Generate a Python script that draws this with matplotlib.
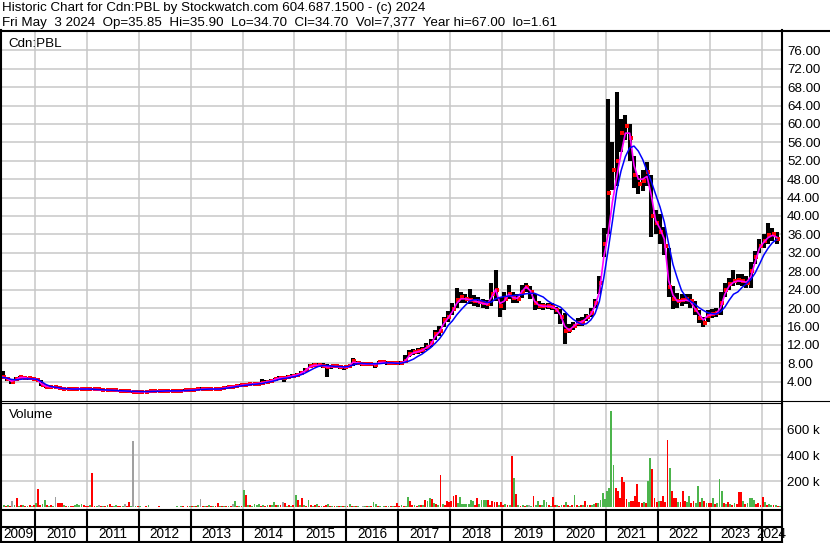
import numpy as np
import matplotlib
matplotlib.use("Agg")
import matplotlib.pyplot as plt
from matplotlib.lines import Line2D

# ---- monthly price data, May 2009 .. Apr 2024 ----
close_px = [
    5.0, 4.6, 3.9, 4.6, 5.0, 4.9, 4.7, 4.6,                          # 2009
    4.4, 3.2, 2.9, 2.9, 2.8, 2.6, 2.5, 2.4, 2.4, 2.5, 2.5, 2.4,      # 2010
    2.4, 2.3, 2.3, 2.2, 2.2, 2.1, 2.1, 2.0, 2.0, 1.9, 1.8, 1.8,      # 2011
    1.8, 1.8, 1.9, 1.9, 1.9, 2.0, 2.0, 2.0, 2.0, 2.0, 2.1, 2.1,      # 2012
    2.2, 2.3, 2.4, 2.4, 2.4, 2.3, 2.4, 2.6, 2.8, 2.9, 3.0, 3.2,      # 2013
    3.3, 3.4, 3.5, 3.6, 3.8, 4.0, 4.2, 4.6, 4.9, 4.7, 5.1, 5.3,      # 2014
    5.5, 5.9, 6.5, 7.4, 7.6, 7.6, 7.5, 7.2, 7.3, 7.3, 7.2, 7.1,      # 2015
    7.3, 8.4, 8.0, 7.9, 7.8, 7.9, 7.6, 8.2, 8.2, 8.1, 8.1, 8.0,      # 2016
    8.1, 8.6, 10.0, 10.4, 10.6, 10.9, 11.6, 12.3, 14.3, 15.0, 17.3, 18.0,   # 2017
    19.8, 21.8, 22.3, 22.0, 21.8, 21.6, 21.3, 21.0, 20.8, 23.0, 24.0, 20.5, # 2018
    22.0, 23.0, 22.2, 22.0, 23.5, 24.5, 23.5, 21.0, 20.5, 20.4, 20.4, 20.2, # 2019
    19.5, 18.0, 15.0, 15.3, 16.0, 16.8, 17.0, 18.0, 19.0, 21.0, 25.5, 34.0, # 2020
    45.0, 50.0, 52.0, 58.0, 59.5, 57.0, 49.0, 47.0, 47.5, 49.5, 40.0, 38.5, # 2021
    36.5, 33.5, 24.5, 22.0, 21.5, 21.8, 22.0, 21.5, 19.5, 17.8, 16.8, 18.3, # 2022
    18.8, 18.9, 21.0, 24.0, 25.2, 25.8, 26.0, 25.8, 25.5, 28.0, 31.0, 33.5, # 2023
    34.5, 35.8, 36.0, 35.0,                                          # 2024
]
high_px = [
    6.4, 5.1, 4.5, 5.0, 5.3, 5.3, 5.0, 4.9,
    4.7, 4.4, 3.3, 3.1, 3.0, 2.9, 2.8, 2.7, 2.6, 2.8, 2.7, 2.6,
    2.6, 2.6, 2.5, 2.4, 2.4, 2.3, 2.3, 2.2, 2.2, 2.1, 2.0, 2.0,
    2.0, 2.0, 2.1, 2.2, 2.1, 2.2, 2.2, 2.2, 2.2, 2.3, 2.4, 2.3,
    2.6, 2.5, 2.8, 2.6, 2.6, 2.5, 2.7, 2.9, 3.1, 3.1, 3.3, 3.5,
    3.6, 3.7, 3.8, 3.9, 4.5, 4.3, 4.5, 4.9, 5.3, 5.1, 5.5, 5.7,
    5.9, 6.3, 7.0, 7.8, 8.0, 8.1, 8.0, 7.8, 7.7, 7.7, 7.6, 7.5,
    7.7, 9.1, 8.6, 8.3, 8.2, 8.3, 8.1, 8.6, 8.6, 8.5, 8.5, 8.4,
    8.5, 9.8, 10.8, 11.0, 11.3, 11.5, 12.3, 13.3, 15.3, 16.0, 18.0, 19.3,
    21.0, 24.3, 23.5, 23.0, 24.1, 22.8, 22.3, 22.0, 21.8, 25.5, 28.3, 22.5,
    23.5, 25.0, 23.5, 23.0, 25.0, 25.4, 24.8, 23.0, 21.5, 21.2, 21.2, 21.0,
    20.3, 19.8, 19.0, 16.5, 17.0, 17.8, 18.0, 18.8, 20.0, 22.0, 27.0, 37.5,
    65.4, 56.0, 67.0, 61.0, 62.0, 60.0, 53.0, 49.0, 50.0, 51.8, 49.0, 41.3,
    40.5, 37.7, 33.0, 24.8, 23.2, 23.0, 23.0, 23.0, 21.5, 19.5, 18.0, 19.5,
    19.8, 20.0, 23.5, 25.5, 26.5, 28.3, 27.5, 27.5, 27.0, 30.0, 32.5, 35.0,
    36.0, 38.4, 37.5, 36.5,
]
low_px = [
    4.7, 4.1, 3.6, 4.2, 4.7, 4.6, 4.4, 4.3,
    4.1, 3.0, 2.7, 2.7, 2.6, 2.4, 2.3, 2.2, 2.2, 2.3, 2.3, 2.2,
    2.2, 2.1, 2.1, 2.0, 2.0, 1.9, 1.9, 1.8, 1.8, 1.7, 1.61, 1.65,
    1.65, 1.65, 1.7, 1.7, 1.7, 1.8, 1.8, 1.8, 1.8, 1.8, 1.9, 1.9,
    2.0, 2.1, 2.2, 2.2, 2.2, 2.1, 2.2, 2.4, 2.6, 2.7, 2.8, 3.0,
    3.1, 3.2, 3.3, 3.4, 3.6, 3.8, 4.0, 4.3, 4.5, 4.0, 4.8, 5.0,
    5.2, 5.6, 6.1, 6.9, 7.2, 7.2, 7.0, 5.0, 6.8, 6.9, 6.8, 6.5,
    6.9, 7.4, 7.6, 7.5, 7.4, 7.4, 6.9, 7.8, 7.8, 7.7, 7.7, 7.6,
    7.7, 8.1, 9.3, 9.8, 10.1, 10.3, 10.8, 11.5, 13.0, 14.0, 15.8, 17.0,
    18.5, 20.0, 21.0, 21.0, 20.8, 20.5, 20.3, 20.0, 19.8, 20.5, 21.5, 18.1,
    19.5, 22.0, 21.2, 21.0, 22.2, 23.5, 22.0, 19.6, 19.8, 19.6, 19.7, 19.5,
    18.8, 16.5, 12.1, 14.5, 15.2, 16.0, 16.2, 17.2, 18.0, 20.0, 23.0, 31.0,
    36.0, 45.7, 46.5, 54.0, 56.5, 52.0, 46.0, 44.8, 45.5, 46.5, 35.5, 36.0,
    34.0, 31.5, 22.5, 19.7, 20.0, 20.5, 20.8, 20.0, 18.5, 16.8, 15.9, 17.0,
    17.8, 18.0, 18.5, 22.5, 24.0, 24.8, 25.0, 24.8, 24.3, 24.3, 29.5, 32.0,
    33.0, 34.0, 34.5, 34.0,
]
ma_fast = [
    5.0, 4.7, 4.1, 4.4, 4.9, 4.9, 4.7, 4.6,
    4.5, 3.5, 3.0, 2.9, 2.8, 2.6, 2.5, 2.45, 2.4, 2.45, 2.5, 2.4,
    2.4, 2.3, 2.3, 2.2, 2.2, 2.1, 2.1, 2.0, 2.0, 1.9, 1.85, 1.8,
    1.8, 1.8, 1.85, 1.9, 1.9, 1.95, 2.0, 2.0, 2.0, 2.0, 2.05, 2.1,
    2.2, 2.3, 2.35, 2.4, 2.4, 2.35, 2.4, 2.55, 2.75, 2.9, 3.0, 3.15,
    3.3, 3.4, 3.5, 3.6, 3.75, 3.95, 4.15, 4.5, 4.8, 4.8, 5.0, 5.25,
    5.45, 5.8, 6.4, 7.2, 7.55, 7.6, 7.5, 7.2, 7.25, 7.3, 7.2, 7.1,
    7.2, 8.2, 8.1, 7.9, 7.8, 7.9, 7.7, 8.1, 8.2, 8.1, 8.1, 8.0,
    8.0, 8.4, 9.6, 10.3, 10.5, 10.8, 11.4, 12.0, 13.8, 14.8, 16.6, 17.8,
    19.2, 21.0, 22.0, 22.0, 21.8, 21.6, 21.3, 21.0, 20.8, 22.2, 24.0, 21.0,
    21.5, 23.0, 22.3, 22.1, 23.5, 24.6, 23.8, 21.5, 20.6, 20.4, 20.4, 20.3,
    19.8, 18.5, 16.0, 15.2, 16.0, 16.8, 17.0, 17.8, 18.6, 20.5, 23.5, 31.0,
    36.0, 43.0, 48.5, 53.5, 58.0, 58.0, 51.0, 48.0, 48.0, 48.6, 44.5, 39.0,
    37.3, 35.0, 26.0, 22.8, 21.5, 21.6, 21.7, 21.5, 20.0, 18.7, 17.4, 18.3,
    18.6, 18.8, 20.0, 23.0, 24.8, 25.6, 25.9, 25.8, 25.6, 26.8, 30.0, 33.0,
    34.3, 35.3, 35.8, 35.4,
]
ma_slow = [
    4.9, 4.8, 4.5, 4.4, 4.5, 4.6, 4.6, 4.6,
    4.5, 4.0, 3.4, 3.0, 2.8, 2.7, 2.5, 2.5, 2.4, 2.4, 2.4, 2.4,
    2.4, 2.35, 2.3, 2.25, 2.2, 2.15, 2.1, 2.05, 2.0, 1.95, 1.9, 1.9,
    1.85, 1.85, 1.85, 1.9, 1.9, 1.95, 2.0, 2.0, 2.0, 2.0, 2.05, 2.1,
    2.15, 2.2, 2.3, 2.35, 2.4, 2.4, 2.4, 2.5, 2.6, 2.75, 2.9, 3.05,
    3.2, 3.3, 3.4, 3.5, 3.6, 3.8, 4.0, 4.2, 4.5, 4.7, 4.8, 5.0,
    5.2, 5.5, 5.9, 6.4, 6.9, 7.3, 7.5, 7.5, 7.4, 7.3, 7.3, 7.2,
    7.3, 7.6, 7.9, 8.0, 7.9, 7.9, 7.9, 7.9, 8.0, 8.1, 8.1, 8.0,
    8.0, 8.2, 8.5, 8.9, 9.5, 10.0, 10.7, 11.4, 12.3, 13.3, 14.6, 16.2,
    17.2, 18.5, 19.6, 20.6, 21.5, 21.8, 21.8, 21.5, 21.2, 21.3, 22.0, 22.3,
    22.5, 22.6, 22.7, 22.8, 22.9, 23.1, 23.2, 23.2, 22.8, 22.4, 21.6, 21.0,
    20.6, 20.2, 19.3, 18.3, 17.5, 16.9, 16.4, 16.6, 17.4, 18.8, 21.5, 26.5,
    32.5, 38.8, 45.5, 49.8, 52.9, 54.8, 55.2, 54.1, 52.3, 49.8, 47.5, 44.7,
    42.0, 38.7, 34.0, 29.5, 26.5, 23.8, 22.4, 21.5, 20.9, 20.1, 19.5, 19.0,
    18.8, 18.7, 19.2, 20.2, 21.7, 23.0, 23.5, 24.5, 25.3, 26.2, 27.6, 29.5,
    31.5, 33.0, 34.2, 34.9,
]

# ---- half-month volume (thousands), first half of May 2009 .. first half of May 2024 ----
volume_k = [
    18, 15, 12, 20, 14, 49, 16, 69, 12, 18, 15, 10, 14, 20, 12, 16,
    36, 138, 18, 25, 54, 15, 12, 20, 14, 80, 36, 34, 30, 15, 12, 14, 10, 12, 15, 23, 22, 24, 18, 12,
    12, 15, 264, 10, 8, 20, 10, 12, 8, 15, 25, 10, 14, 20, 8, 10, 12, 25, 10, 38, 12, 510, 10, 8,
    8, 6, 5, 8, 15, 6, 5, 4, 6, 8, 5, 4, 6, 5, 4, 6, 5, 7, 6, 8, 12, 6, 8, 10,
    10, 8, 12, 15, 62, 12, 10, 14, 18, 12, 10, 14, 31, 12, 10, 8, 12, 14, 10, 23, 49, 12, 10, 14,
    133, 92, 15, 20, 12, 23, 22, 23, 14, 18, 12, 16, 20, 18, 41, 22, 16, 20, 41, 30, 14, 18, 12, 16,
    95, 56, 15, 72, 20, 14, 56, 18, 12, 16, 25, 14, 10, 12, 15, 23, 12, 10, 14, 12, 8, 10, 12, 8,
    10, 23, 8, 10, 12, 8, 6, 10, 8, 12, 10, 8, 41, 23, 8, 10, 6, 8, 10, 8, 12, 10, 8, 36,
    12, 15, 10, 14, 80, 49, 16, 20, 14, 18, 22, 16, 56, 49, 74, 62, 30, 25, 20, 249, 23, 18, 49, 45,
    49, 87, 95, 30, 80, 25, 25, 28, 25, 56, 49, 20, 69, 25, 56, 56, 56, 56, 20, 49, 40, 40, 20, 40,
    20, 25, 15, 20, 395, 223, 100, 18, 12, 15, 14, 15, 15, 12, 87, 18, 49, 20, 15, 54, 41, 16, 12, 80,
    15, 18, 12, 20, 15, 41, 18, 14, 20, 95, 18, 14, 20, 15, 49, 18, 22, 20, 25, 36, 30, 54, 113, 62,
    126, 151, 741, 326, 151, 126, 74, 233, 197, 62, 45, 50, 50, 87, 177, 40, 30, 45, 35, 203, 377, 292, 74, 40,
    50, 50, 87, 40, 515, 300, 126, 74, 69, 40, 45, 126, 50, 40, 87, 35, 50, 30, 164, 40, 74, 50, 35, 30,
    30, 74, 25, 30, 218, 126, 30, 25, 40, 25, 20, 30, 25, 118, 118, 50, 25, 30, 74, 74, 60, 25, 36, 20,
    80, 41, 20, 25, 15, 18, 15, 12, 10,
]
# g = up day, r = down day, k = unchanged
volume_dir = (
    "rgrgrkgrgrgrgrgr"
    "grrggrgrgkrrrgrgrrggggrr"
    "rgrrgkrgrgrrggrrgkrrgkgr"
    "grgrgrkrgrgrrgrgrgrgrgrg"
    "rgrgkrgrgrgrrgrgrgrkgrgr"
    "grgrggggrgrgrggrgrkrgrgr"
    "grgrgrgrgrgrgrrgrgrgrgrg"
    "rgrgrgrkgrgrggrgrgrgrgrr"
    "rgrggrrgrgrgrggrgrgrgrrr"
    "rrrggggggggrrggggrrrrrgr"
    "rgrgrgrgrgrgkgrggrgggrgr"
    "rgrgrgrgrgrgrgrgrggrgggg"
    "ggggrrrrrrgrrrrrrgrggrrr"
    "grrrrgrrrgrrrggrrggrgrgr"
    "rgrgggrgrgrgrrrgrggggrrr"
    "rgrggrgrg"
)

year_labels = [str(y) for y in range(2009, 2025)]

header_1 = "Historic Chart for Cdn:PBL by Stockwatch.com 604.687.1500 - (c) 2024"
header_2 = ("Fri May  3 2024  Op=35.85  Hi=35.90  Lo=34.70  Cl=34.70  "
            "Vol=7,377  Year hi=67.00  lo=1.61")

W, H = 830, 543
FONT = "Liberation Sans"
GRID = "#c8c8c8"
DIR_COLORS = {"g": "#4cb44c", "r": "#ff0000", "k": "#a0a0a0"}


def fx(px):
    return px / W


def fy(py):
    return 1 - py / H


def year_of_px(px):
    return 2010 + (px - 35) / 51.9


x_left, x_right = year_of_px(2), year_of_px(782)
x_month = 2009 + (4 + np.arange(len(close_px)) + 0.5) / 12
x_half = 2009 + (8 + np.arange(len(volume_k)) + 0.5) / 24
boundaries = list(range(2010, 2025))

plt.rcParams["font.family"] = [FONT, "DejaVu Sans"]
fig = plt.figure(figsize=(W / 100, H / 100), dpi=100)
fig.patch.set_facecolor("white")

# ---- price panel ----
ax = fig.add_axes([fx(2), fy(401), fx(782) - fx(2), (401 - 31) / H])
ax.set_xlim(x_left, x_right)
ax.set_ylim(-0.2, 80.2)
ax.set_xticks(boundaries)
ax.set_yticks(np.arange(4, 80, 4))
ax.set_yticklabels([f"{v:.2f}" for v in np.arange(4, 80, 4)])
ax.grid(True, color=GRID, lw=1.1, zorder=0)
ax.set_axisbelow(True)
ax.yaxis.tick_right()
ax.tick_params(axis="x", length=0, labelbottom=False)
ax.tick_params(axis="y", length=0, pad=3.6, labelsize=9.6)
for s in ax.spines.values():
    s.set_visible(False)

ax.vlines(x_month, low_px, high_px, color="black", lw=2.9, zorder=2)
ax.plot(x_month + 0.025, close_px, "s", ms=2.2, color="red", mew=0, zorder=3)
ax.plot(x_month, ma_fast, color="#ff00ff", lw=1.2, zorder=4)
ax.plot(x_month, ma_slow, color="#0000ff", lw=1.1, zorder=5)

# ---- volume panel ----
av = fig.add_axes([fx(2), fy(510), fx(782) - fx(2), (510 - 403) / H])
av.set_xlim(x_left, x_right)
av.set_ylim(-20, 800)
av.set_xticks(boundaries)
av.set_yticks([200, 400, 600])
av.set_yticklabels(["200 k", "400 k", "600 k"])
av.grid(True, color=GRID, lw=1.1, zorder=0)
av.set_axisbelow(True)
av.yaxis.tick_right()
av.tick_params(axis="x", length=0, labelbottom=False)
av.tick_params(axis="y", length=0, pad=3.6, labelsize=9.6)
for s in av.spines.values():
    s.set_visible(False)
av.bar(x_half, volume_k, width=0.85 / 24,
       color=[DIR_COLORS[c] for c in volume_dir], lw=0, zorder=2)

# ---- date strip ----
ad = fig.add_axes([fx(2), fy(541), fx(782) - fx(2), (541 - 510) / H])
ad.set_xlim(x_left, x_right)
ad.set_ylim(0, 2)
ad.axis("off")
ad.vlines(boundaries, 0, 2, color="black", lw=1.5)
for i, lab in enumerate(year_labels):
    y0 = 2009 + i
    c = (max(y0, x_left) + min(y0 + 1, x_right)) / 2
    ad.text(c, 0.45, lab, ha="center", va="center", fontsize=9.8, clip_on=False)

# ---- frame lines ----
def hline(py, x0, x1, lw=1.5):
    fig.add_artist(Line2D([fx(x0), fx(x1)], [fy(py), fy(py)], color="black", lw=lw))


def vline(px, y0, y1, lw=1.5):
    fig.add_artist(Line2D([fx(px), fx(px)], [fy(y0), fy(y1)], color="black", lw=lw))


hline(30.5, 0, 830)
hline(400.5, 0, 830, lw=0.8)
hline(402.5, 0, 782, lw=0.8)
hline(510, 0, 782)
hline(527, 0, 782)
hline(541.5, 0, 782)
vline(1, 30, 542)
vline(782, 30, 542)

# ---- texts ----
fig.text(fx(2), fy(11.5), header_1, fontsize=9.6, va="baseline")
fig.text(fx(2), fy(26), header_2, fontsize=9.6, va="baseline")
fig.text(fx(8), fy(47), "Cdn:PBL", fontsize=9.6, va="baseline")
fig.text(fx(9), fy(418), "Volume", fontsize=9.6, va="baseline")

fig.savefig("out.png", dpi=100)
